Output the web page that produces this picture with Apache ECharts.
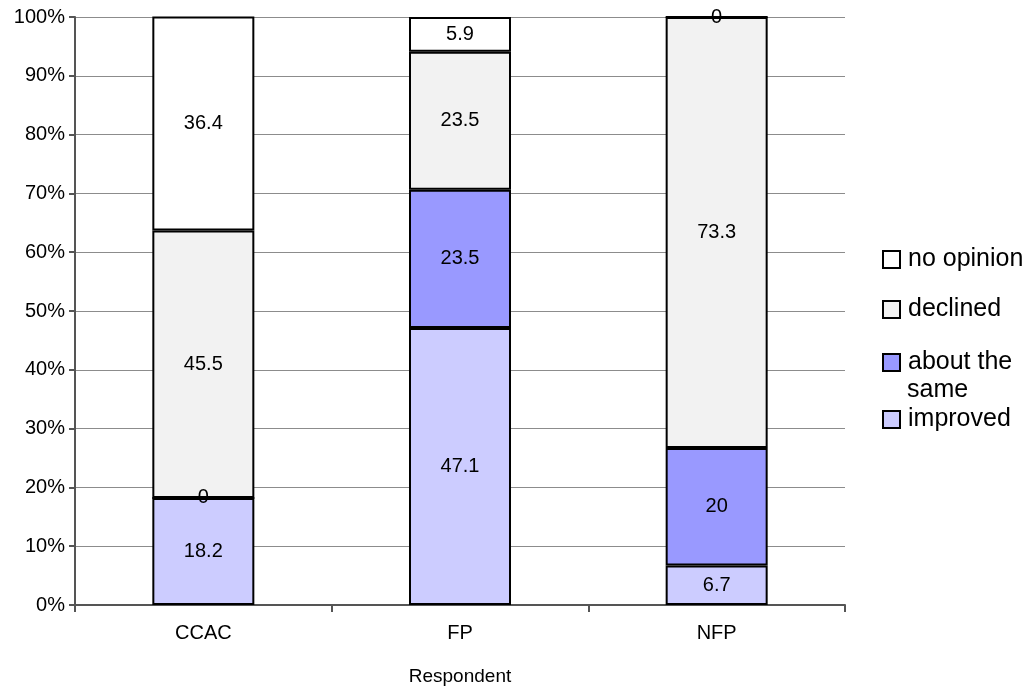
<!DOCTYPE html>
<html>
<head>
<meta charset="utf-8">
<script src="https://cdn.jsdelivr.net/npm/echarts@6/dist/echarts.min.js"></script>
<style>
  html, body { margin: 0; padding: 0; background: #fff; }
  #chart { width: 1031px; height: 686px; }
</style>
</head>
<body>
<div id="chart"></div>
<script>
// Respondent groups along the x axis
const categories = ['CCAC', 'FP', 'NFP'];
// Share of answers per group (percent)
const improved   = [18.2, 47.1, 6.7];
const aboutSame  = [0, 23.5, 20];
const declined   = [45.5, 23.5, 73.3];
const noOpinion  = [36.4, 5.9, 0];
const yTicks = [0, 10, 20, 30, 40, 50, 60, 70, 80, 90, 100];

const FONT = 'Liberation Sans, Arial, sans-serif';

function seg(name, data, color) {
  return {
    name: name,
    type: 'bar',
    stack: 'total',
    data: data,
    barWidth: 102,
    itemStyle: { color: color, borderColor: '#000', borderWidth: 2 },
    label: {
      show: true,
      position: 'inside',
      color: '#000',
      fontFamily: FONT,
      fontSize: 20
    }
  };
}

// one legend box per entry so each row can sit at its own height
function legendRow(name, top) {
  return {
    orient: 'vertical',
    left: 882,
    top: top,
    padding: 0,
    itemWidth: 17,
    itemHeight: 17,
    icon: 'rect',
    data: [name],
    formatter: function (n) { return n === 'about the same' ? 'about the' : n; },
    itemStyle: { borderColor: '#000', borderWidth: 2 },
    textStyle: { color: '#000', fontFamily: FONT, fontSize: 25, padding: [0, 0, 0, 3] }
  };
}

const chart = echarts.init(document.getElementById('chart'));
chart.setOption({
  animation: false,
  grid: { left: 75, right: 186, top: 17, bottom: 81, outerBoundsMode: 'none' },
  xAxis: {
    type: 'category',
    data: categories,
    name: 'Respondent',
    nameLocation: 'middle',
    nameGap: 62,
    nameTextStyle: { color: '#000', fontFamily: FONT, fontSize: 19 },
    axisLine: { lineStyle: { color: '#555', width: 2 } },
    axisTick: { show: true, length: 7, lineStyle: { color: '#555', width: 2 } },
    axisLabel: { color: '#000', fontFamily: FONT, fontSize: 20, margin: 18 }
  },
  yAxis: {
    type: 'value',
    min: yTicks[0],
    max: yTicks[yTicks.length - 1],
    interval: 10,
    axisLine: { show: true, lineStyle: { color: '#555', width: 2 } },
    axisTick: { show: true, length: 6, lineStyle: { color: '#555', width: 2 } },
    axisLabel: { color: '#000', fontFamily: FONT, fontSize: 20, margin: 10, formatter: '{value}%' },
    splitLine: { lineStyle: { color: '#8c8c8c', width: 1 } }
  },
  legend: [
    legendRow('no opinion', 247),
    legendRow('declined', 297),
    legendRow('about the same', 350),
    legendRow('improved', 407)
  ],
  graphic: [
    {
      type: 'text',
      left: 907,
      top: 378,
      style: { text: 'same', fill: '#000', font: '25px ' + FONT }
    }
  ],
  series: [
    seg('improved', improved, '#ccccff'),
    seg('about the same', aboutSame, '#9999ff'),
    seg('declined', declined, '#f2f2f2'),
    seg('no opinion', noOpinion, '#ffffff')
  ]
});
</script>
</body>
</html>
